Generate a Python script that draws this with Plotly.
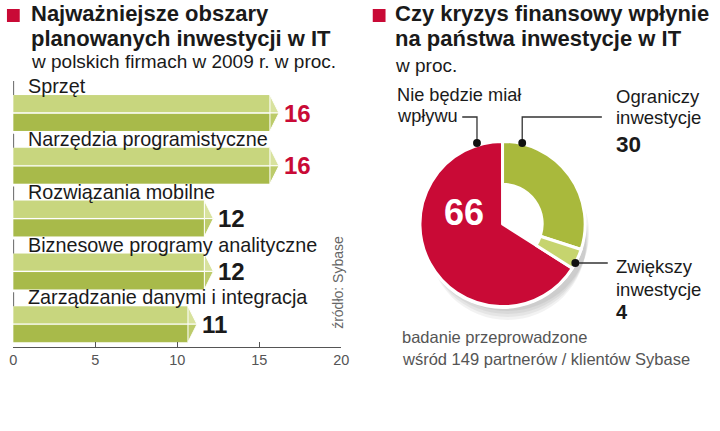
import plotly.graph_objects as go

# ---------------- data ----------------
categories = ["Sprzęt", "Narzędzia programistyczne", "Rozwiązania mobilne",
              "Biznesowe programy analityczne", "Zarządzanie danymi i integracja"]
values = [16, 16, 12, 12, 11]
x_ticks = [0, 5, 10, 15, 20]

pie_labels = ["Ograniczy inwestycje", "Zwiększy inwestycje", "Nie będzie miał wpływu"]
pie_values = [30, 4, 66]

W, H = 720, 431
FONT = "Liberation Sans"
RED = "#c90a36"
GREEN = "#a9b93c"
LGREEN = "#c6d46e"
BAR_TOP = "#c8d67e"
BAR_BOT = "#a8ba4a"
TIP_TOP = "#d8e29e"
TIP_BOT = "#bccb6a"
GREY = "#555555"
INK = "#1a1a1a"
NONE = "rgba(0,0,0,0)"
MID = 0.3465  # (ascent - descent) / 2 of the font, in em


def X(px):
    return px / W


def Y(py):
    return 1 - py / H


fig = go.Figure()

# ---------------- bar chart (left) ----------------
top_px, bot_px, c0_px, step_px = 80, 347, 113, 52.8
h = 0.341   # half height of a bar in axis units
g = 0.012   # half of white middle line
back = 0.35
tip = 0.2
CAT_SIZE = 19.8
for k, (cat, v) in enumerate(zip(categories, values)):
    c = -k
    polys = [
        ([-0.1, v - back, v - back, -0.3, -0.1], [c + h, c + h, c + g, c + g, c + h], BAR_TOP, 0),
        ([-0.3, v - back, v - back, -0.1, -0.3], [c - g, c - g, c - h, c - h, c - g], BAR_BOT, 0),
        ([v - back, v + tip, v - back, v - back], [c + h, c, c, c + h], TIP_TOP, 1),
        ([v - back, v + tip, v - back, v - back], [c - h, c, c, c - h], TIP_BOT, 1),
    ]
    for xs, ys, col, lw in polys:
        fig.add_trace(go.Scatter(
            x=xs, y=ys, fill="toself", fillcolor=col, mode="lines",
            line=dict(color="white", width=lw if lw else 0.1),
            hoverinfo="skip", showlegend=False, xaxis="x", yaxis="y"))
    # category label: baseline 20 px above the bar centre
    lab_c = c + (20 + MID * CAT_SIZE) / step_px
    fig.add_annotation(text=cat, x=X(22), xref="paper", y=lab_c, yref="y",
                       xanchor="left", yanchor="middle", showarrow=False,
                       font=dict(family=FONT, size=CAT_SIZE, color=INK))
    # value label
    fig.add_annotation(text=f"<b>{v}</b>", x=v + tip, xref="x", y=c, yref="y",
                       xanchor="left", yanchor="middle", xshift=3, showarrow=False,
                       font=dict(family=FONT, size=24,
                                 color=RED if v == max(values) else INK))

# small vertical tick marks before labels
fig.add_trace(go.Scatter(
    x=[0] * len(categories), y=[-k + 25 / step_px for k in range(len(categories))],
    mode="markers", marker=dict(symbol="line-ns", size=10,
                                line=dict(color="#333333", width=1.5)),
    hoverinfo="skip", showlegend=False, xaxis="x", yaxis="y"))

# ---------------- donut (right) ----------------
cx, cy, r = 507, 224, 84
dom_x = [X(cx - r), X(cx + r)]
dom_y = [Y(cy + r), Y(cy - r)]

# soft shadow under the donut, then a white disc so it only shows outside
for i in range(4):
    d = 3 + i * 3
    fig.add_shape(type="circle", xref="paper", yref="paper",
                  x0=X(cx - r + 6 + i), x1=X(cx + r + 4 - i),
                  y0=Y(cy + r + d), y1=Y(cy - r + d + 12),
                  fillcolor="rgba(0,0,0,0.05)", line=dict(width=0), layer="below")
fig.add_shape(type="circle", xref="paper", yref="paper",
              x0=X(cx - r - 1), x1=X(cx + r + 1), y0=Y(cy + r + 1), y1=Y(cy - r - 1),
              fillcolor="white", line=dict(width=0), layer="below")

fig.add_trace(go.Pie(
    values=pie_values, labels=pie_labels, sort=False, direction="clockwise",
    rotation=0, hole=0, domain=dict(x=dom_x, y=dom_y),
    marker=dict(colors=[NONE, NONE, RED],
                line=dict(color=[NONE, NONE, "white"], width=3)),
    textinfo="none", hoverinfo="skip", showlegend=False))
fig.add_trace(go.Pie(
    values=pie_values, labels=pie_labels, sort=False, direction="clockwise",
    rotation=0, hole=0.48, domain=dict(x=dom_x, y=dom_y),
    marker=dict(colors=[GREEN, LGREEN, NONE],
                line=dict(color=["white", "white", NONE], width=3)),
    textinfo="none", hoverinfo="skip", showlegend=False))

# leader lines and dots
leaders = [
    ([(466, 117), (481, 117), (481, 143)], (481, 143)),
    ([(527, 143), (527, 117), (608, 117)], (527, 143)),
    ([(581, 263), (614, 263)], (581, 263)),
]
for pts, (dx, dy) in leaders:
    path = "M " + " L ".join(f"{X(a)},{Y(b)}" for a, b in pts)
    fig.add_shape(type="path", path=path, xref="paper", yref="paper",
                  line=dict(color="#333333", width=1.3))
    fig.add_shape(type="circle", xref="paper", yref="paper",
                  x0=X(dx - 4), x1=X(dx + 4), y0=Y(dy + 4), y1=Y(dy - 4),
                  fillcolor="#111111", line=dict(width=0))


def line(t, px, baseline, size, bold=False, color=INK, anchor="left"):
    t = f"<b>{t}</b>" if bold else t
    fig.add_annotation(text=t, x=X(px), y=Y(baseline - MID * size),
                       xref="paper", yref="paper", xanchor=anchor, yanchor="middle",
                       showarrow=False, font=dict(family=FONT, size=size, color=color))


# titles
for sx in (3, 375):
    fig.add_shape(type="rect", xref="paper", yref="paper",
                  x0=X(sx), x1=X(sx + 13), y0=Y(22), y1=Y(9),
                  fillcolor=RED, line=dict(width=0))
line("Najważniejsze obszary", 25, 21.5, 22, True)
line("planowanych inwestycji w IT", 25, 46, 22, True)
line("w polskich firmach w 2009 r. w proc.", 25, 68, 19)
line("Czy kryzys finansowy wpłynie", 396, 21.5, 22, True)
line("na państwa inwestycje w IT", 396, 46, 22, True)
line("w proc.", 396, 72.5, 19)

# pie labels
line("Nie będzie miał", 398, 101.5, 18.2)
line("wpływu", 398, 122, 18.2)
line("Ograniczy", 620, 103, 18.5)
line("inwestycje", 620, 124, 18.5)
line(str(pie_values[0]), 620, 152, 22.5, True)
line("Zwiększy", 620, 273, 18.5)
line("inwestycje", 620, 296, 18.5)
line(str(pie_values[1]), 620, 318.5, 20, True)
line(str(pie_values[2]), 468, 225, 36, True, color="white", anchor="center")

line("badanie przeprowadzone", 403, 343, 16.5, color=GREY)
line("wśród 149 partnerów / klientów Sybase", 403, 365, 16.5, color=GREY)

# source
fig.add_annotation(text="źródło: Sybase", x=X(339), y=Y(331), xref="paper", yref="paper",
                   xanchor="center", yanchor="bottom", textangle=-90, showarrow=False,
                   font=dict(family=FONT, size=14, color="#666666"))

# ---------------- layout ----------------
fig.update_layout(
    width=W, height=H, margin=dict(l=0, r=0, t=0, b=0),
    paper_bgcolor="white", plot_bgcolor="rgba(0,0,0,0)",
    xaxis=dict(domain=[X(9.5), X(343)], range=[0, 20], tickvals=x_ticks,
               showgrid=False, zeroline=False, showline=True, linecolor=GREY,
               linewidth=1, ticks="inside", ticklen=5, tickcolor=GREY,
               tickfont=dict(family=FONT, size=14.5, color=GREY), anchor="y"),
    yaxis=dict(domain=[Y(bot_px), Y(top_px)],
               range=[-(bot_px - c0_px) / step_px, (c0_px - top_px) / step_px],
               visible=False, showgrid=False, zeroline=False),
    showlegend=False,
)

fig.write_html("out.html", config={"displayModeBar": False},
               post_script="document.body.style.margin='0';")
